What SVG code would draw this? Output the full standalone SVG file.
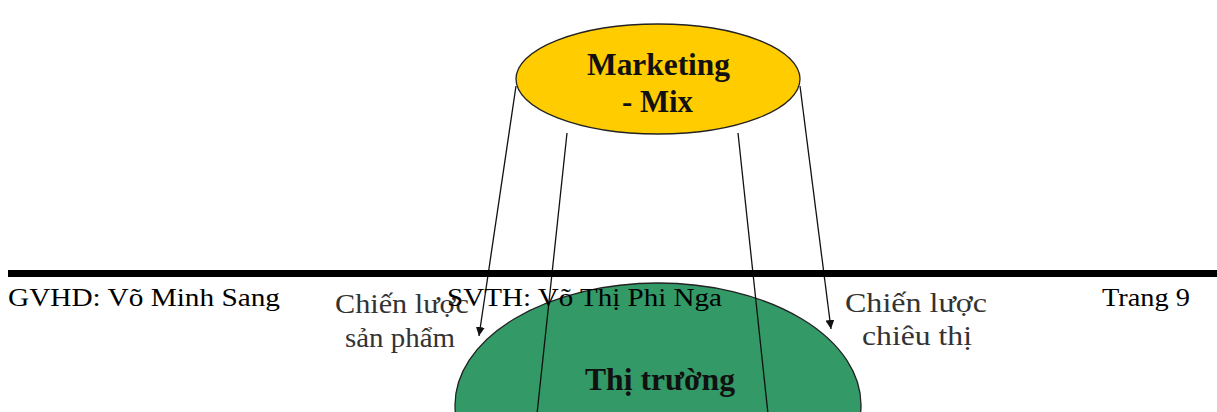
<svg xmlns="http://www.w3.org/2000/svg" width="1217" height="412" viewBox="0 0 1217 412">
<style>
.node{stroke:#222;stroke-width:1.3}
.lbl{font-family:"Liberation Serif",serif;font-weight:bold;font-size:31px;fill:#111}
.cap{font-family:"Liberation Serif",serif;font-size:28px;fill:#333}
.ft{font-family:"Liberation Serif",serif;font-size:25px;fill:#000}
.con{stroke:#111;stroke-width:1.3;fill:none}
</style>
<defs>
<marker id="ah" viewBox="0 0 10 10" refX="10" refY="5" markerWidth="9" markerHeight="9" markerUnits="userSpaceOnUse" orient="auto">
<path d="M0,0 L10,5 L0,10 z" fill="#111"/>
</marker>
</defs>
<rect width="1217" height="412" fill="#fff"/>
<g id="market">
<ellipse class="node" cx="658" cy="405" rx="203" ry="122" fill="#339966"/>
<text class="lbl" x="585" y="390" textLength="150" lengthAdjust="spacingAndGlyphs">Thị trường</text>
</g>
<g id="mix">
<ellipse class="node" cx="658" cy="79" rx="142" ry="55" fill="#ffcc00"/>
<text class="lbl" x="587" y="75" textLength="143" lengthAdjust="spacingAndGlyphs">Marketing</text>
<text class="lbl" x="622" y="112" textLength="71" lengthAdjust="spacingAndGlyphs">- Mix</text>
</g>
<g id="connectors">
<line class="con" x1="516" y1="86" x2="479" y2="336" marker-end="url(#ah)"/>
<line class="con" x1="800" y1="86" x2="831" y2="329" marker-end="url(#ah)"/>
<line class="con" x1="567" y1="133" x2="537" y2="414"/>
<line class="con" x1="738" y1="133" x2="768" y2="414"/>
</g>
<g id="label-sp">
<text class="cap" x="335" y="313" textLength="134" lengthAdjust="spacingAndGlyphs">Chiến lược</text>
<text class="cap" x="345" y="347" textLength="110" lengthAdjust="spacingAndGlyphs">sản phẩm</text>
</g>
<g id="label-ct">
<text class="cap" x="845" y="312" textLength="142" lengthAdjust="spacingAndGlyphs">Chiến lược</text>
<text class="cap" x="862" y="345" textLength="110" lengthAdjust="spacingAndGlyphs">chiêu thị</text>
</g>
<g id="footer">
<rect x="8" y="270" width="1209" height="7" fill="#000"/>
<text class="ft" x="8" y="306" textLength="272" lengthAdjust="spacingAndGlyphs">GVHD: Võ Minh Sang</text>
<text class="ft" x="447" y="306" textLength="275" lengthAdjust="spacingAndGlyphs">SVTH: Võ Thị Phi Nga</text>
<text class="ft" x="1102" y="306" textLength="88" lengthAdjust="spacingAndGlyphs">Trang 9</text>
</g>
</svg>
